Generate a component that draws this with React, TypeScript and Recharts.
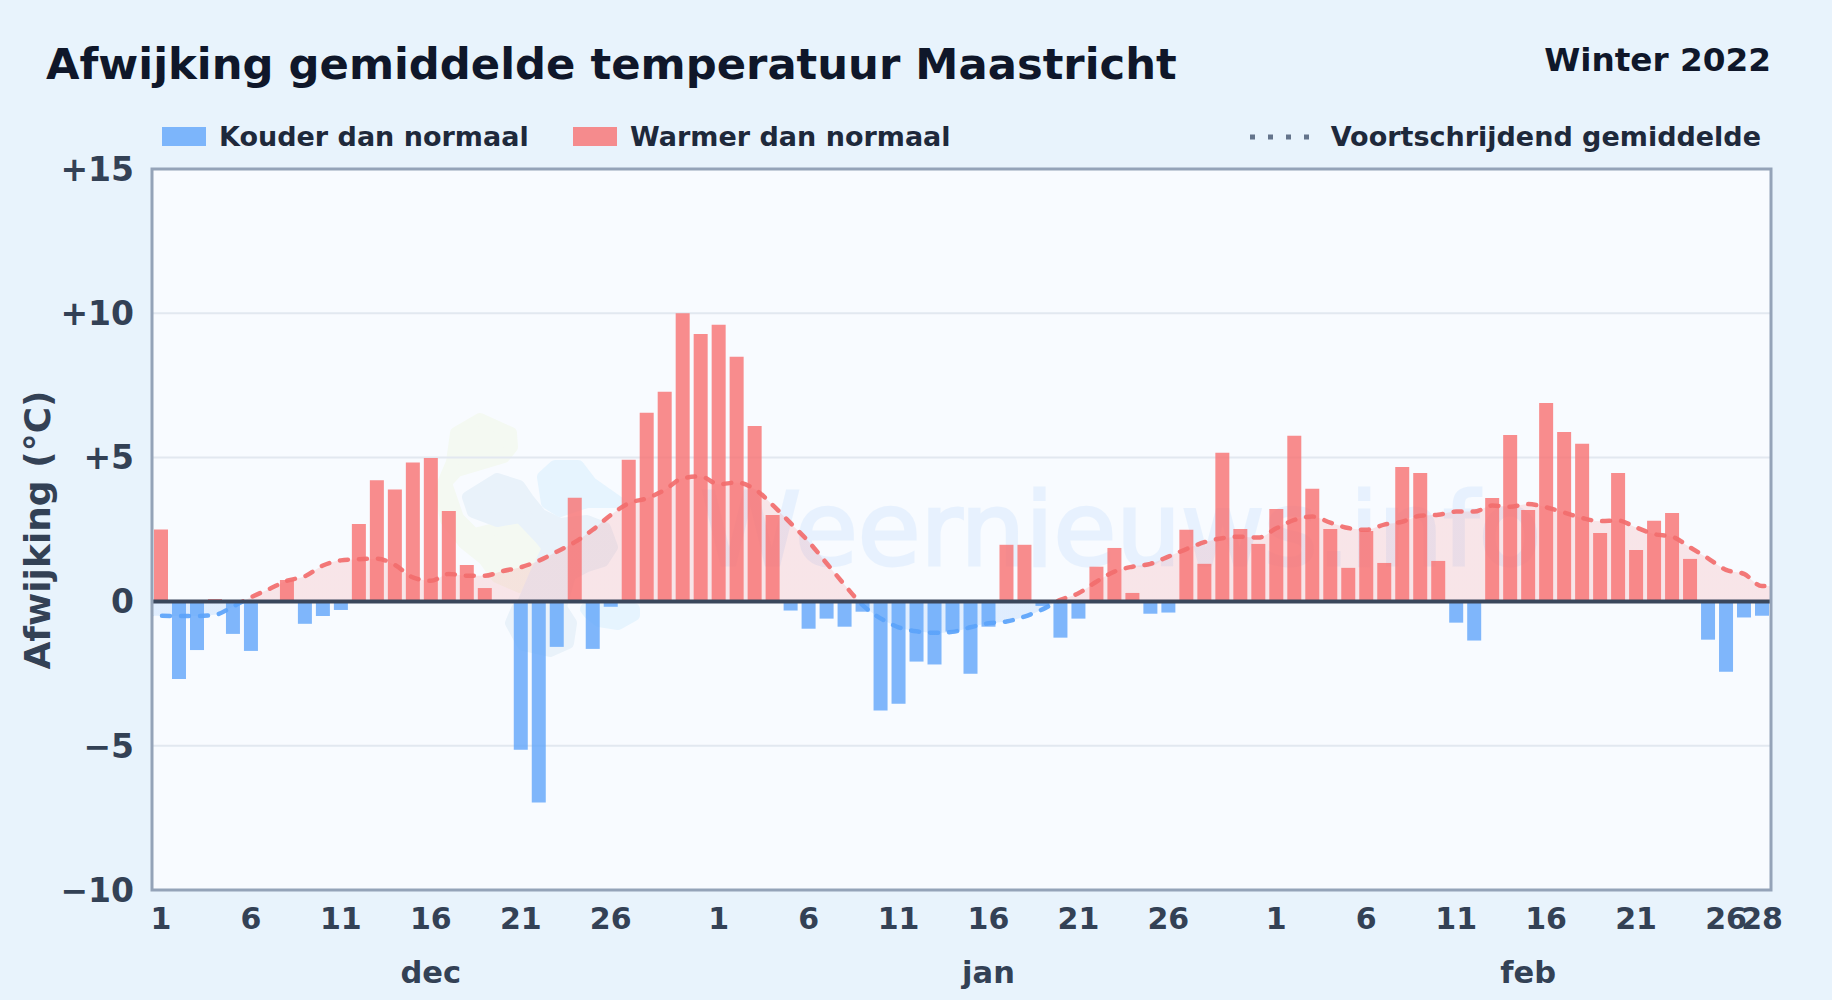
import {
  Area,
  Bar,
  CartesianGrid,
  ComposedChart,
  Line,
  ReferenceLine,
  XAxis,
  YAxis,
} from "recharts";

const monthLengths = [31, 31, 28];
const monthNames = ["dec", "jan", "feb"];

// afwijking per dag, 1 dec t/m 28 feb
const anomaly = [
  2.5, -2.68, -1.68, 0.09, -1.12, -1.71, 0, 0.75, -0.77, -0.5, -0.29, 2.69, 4.21, 3.89, 4.82, 4.98,
  3.14, 1.27, 0.47, 0, -5.14, -6.97, -1.57, 3.6, -1.64, -0.18, 4.92, 6.55, 7.28, 10.0, 9.28,
  9.6, 8.49, 6.09, 3.0, -0.31, -0.94, -0.59, -0.87, -0.35, -3.78, -3.54, -2.08, -2.18, -1.04, -2.5,
  -0.87, 1.97, 1.97, -0.15, -1.25, -0.59, 1.21, 1.86, 0.3, -0.42, -0.38, 2.49, 1.31, 5.16, 2.52, 2.0,
  3.21, 5.75, 3.91, 2.52, 1.17, 2.45, 1.34, 4.67, 4.46, 1.41, -0.73, -1.35, 3.59, 5.78, 3.18, 6.89,
  5.88, 5.47, 2.38, 4.46, 1.79, 2.8, 3.07, 1.48, -1.32, -2.43, -0.55, -0.49,
];

const movingAverage = [
  -0.49, -0.5, -0.5, -0.46, -0.17, 0.15, 0.43, 0.72, 0.88, 1.25, 1.43, 1.47, 1.49, 1.27, 0.84, 0.72,
  0.96, 0.9, 0.9, 1.06, 1.19, 1.42, 1.73, 2.06, 2.49, 3.0, 3.41, 3.58, 3.87, 4.28, 4.34,
  4.07, 4.13, 3.9, 3.35, 2.72, 2.08, 1.33, 0.58, -0.12, -0.58, -0.89, -1.03, -1.08, -1.05, -0.89,
  -0.75, -0.69, -0.52, -0.27, 0.06, 0.29, 0.69, 1.04, 1.21, 1.31, 1.56, 1.82, 2.06, 2.2, 2.25, 2.22,
  2.54, 2.83, 2.95, 2.74, 2.55, 2.49, 2.67, 2.77, 2.98, 3.01, 3.12, 3.12, 3.33, 3.29, 3.38, 3.27,
  3.09, 2.9, 2.79, 2.81, 2.57, 2.34, 2.25, 1.88, 1.5, 1.1, 0.96, 0.54,
];
// de lijn loopt door tot aan de rand van het vlak, buiten de as wordt hij afgeknipt
const averageBeforeStart = -0.49;
const averageAfterEnd = 0.54;

const yTicks = [-10, -5, 0, 5, 10, 15];
const gridValues = [-5, 5, 10];
const dayTicks = [
  [1, 6, 11, 16, 21, 26],
  [1, 6, 11, 16, 21, 26],
  [1, 6, 11, 16, 21, 26, 28],
];
// positie van de maandnaam onder de as
const monthLabelDays = [16, 16, 15];

const dayNumbers: number[] = [];
const dayRows = anomaly.map((value, i) => {
  let rest = i;
  let m = 0;
  while (rest >= monthLengths[m]) {
    rest -= monthLengths[m];
    m += 1;
  }
  dayNumbers.push(rest + 1);
  return {
    key: i,
    cold: value < 0 ? value : null,
    warm: value >= 0 ? value : null,
    avg: movingAverage[i],
  };
});
const rows = [
  { key: -1, cold: null, warm: null, avg: averageBeforeStart },
  ...dayRows,
  { key: anomaly.length, cold: null, warm: null, avg: averageAfterEnd },
];

const monthStart = (m: number) => monthLengths.slice(0, m).reduce((a, b) => a + b, 0);
const xTicks = dayTicks.flatMap((days, m) => days.map((d) => monthStart(m) + d - 1));
const monthTicks = monthLabelDays.map((d, m) => monthStart(m) + d - 1);

const W = 1832;
const H = 1000;
const PLOT = { left: 152, right: 1771, top: 169, bottom: 890 };
const FONT = "'DejaVu Sans', sans-serif";
const ZERO_AT = 15 / 25; // nul op de schaal -10..15

const formatY = (v: number) => (v > 0 ? `+${v}` : v < 0 ? `\u2212${-v}` : "0");

const logoBlobs = [
  { fill: "#f4f9f2", points: "456,433 480,419 511,433 512,447 504,457 457,471 446,483 458,518 474,534 503,527 537,531 558,552 557,570 548,581 520,587 497,577 484,559 464,543 446,520 440,490 452,462" },
  { fill: "#e9f2fa", points: "468,497 497,479 519,486 528,499 541,515 560,524 587,521 605,528 612,547 603,561 587,566 570,575 560,610 520,610 535,575 548,548 540,538 520,517 497,521 473,512" },
  { fill: "#e6f4fe", points: "543,477 555,466 578,466 591,483 618,502 587,502 560,511 547,503" },
  { fill: "#e9f2fa", points: "511,623 517,609 562,609 571,623 568,643 550,651 523,645" },
  { fill: "#e6f4fe", points: "586,609 634,609 634,615 618,624 599,621 589,613" },
];

function Backdrop() {
  return (
    <svg width={W} height={H} style={{ position: "absolute", left: 0, top: 0 }}>
      <rect
        x={PLOT.left}
        y={PLOT.top}
        width={PLOT.right - PLOT.left}
        height={PLOT.bottom - PLOT.top}
        fill="#f8fbff"
      />
      {logoBlobs.map((b) => (
        <polygon key={b.points} points={b.points} fill={b.fill} stroke={b.fill} strokeWidth={12} strokeLinejoin="round" />
      ))}
      <text
        x={700}
        y={565}
        fontFamily={FONT}
        fontSize={102}
        fill="#60a5fa"
        stroke="#60a5fa"
        strokeWidth={3}
        opacity={0.1}
      >
        Weernieuws.info
      </text>
    </svg>
  );
}

function PlotBorder() {
  return (
    <svg width={W} height={H} style={{ position: "absolute", left: 0, top: 0, pointerEvents: "none" }}>
      <rect
        x={PLOT.left}
        y={PLOT.top}
        width={PLOT.right - PLOT.left}
        height={PLOT.bottom - PLOT.top}
        fill="none"
        stroke="#94a3b8"
        strokeWidth={3}
      />
    </svg>
  );
}

function LegendRow() {
  const label = { position: "absolute", top: 119, fontSize: 27, fontWeight: 700, color: "#1e293b", lineHeight: "36px" } as const;
  return (
    <>
      <div style={{ position: "absolute", left: 162, top: 127, width: 44, height: 19, background: "rgba(96,165,250,0.8)" }} />
      <div style={{ ...label, left: 219 }}>Kouder dan normaal</div>
      <div style={{ position: "absolute", left: 573, top: 127, width: 44, height: 19, background: "rgba(248,113,113,0.8)" }} />
      <div style={{ ...label, left: 630 }}>Warmer dan normaal</div>
      <svg width={60} height={10} style={{ position: "absolute", left: 1250, top: 132 }}>
        <line x1={0} x2={60} y1={5} y2={5} stroke="#64748b" strokeWidth={5} strokeDasharray="5 13" />
      </svg>
      <div style={{ ...label, right: W - 1761 }}>Voortschrijdend gemiddelde</div>
    </>
  );
}

export default function App() {
  return (
    <div
      style={{
        position: "absolute",
        left: 0,
        top: 0,
        width: W,
        height: H,
        overflow: "hidden",
        background: "#e8f3fc",
        fontFamily: FONT,
      }}
    >
      <Backdrop />
      <div style={{ position: "absolute", left: 46, top: 36, fontSize: 43.3, fontWeight: 700, color: "#0f172a", lineHeight: "56px" }}>
        Afwijking gemiddelde temperatuur Maastricht
      </div>
      <div style={{ position: "absolute", right: W - 1771, top: 40, fontSize: 32.7, fontWeight: 700, color: "#0f172a", lineHeight: "40px" }}>
        Winter 2022
      </div>
      <LegendRow />
      <div style={{ position: "absolute", left: 0, top: 0 }}>
        <ComposedChart
          width={W}
          height={H}
          data={rows}
          stackOffset="sign"
          margin={{ top: PLOT.top, right: W - PLOT.right, bottom: H - PLOT.bottom - 110, left: 0 }}
        >
          <defs>
            <linearGradient id="avgStroke" gradientUnits="userSpaceOnUse" x1={0} x2={0} y1={PLOT.top} y2={PLOT.bottom}>
              <stop offset={ZERO_AT} stopColor="#f26d6d" />
              <stop offset={ZERO_AT} stopColor="#5ba3fa" />
            </linearGradient>
            <linearGradient id="avgFill" gradientUnits="userSpaceOnUse" x1={0} x2={0} y1={PLOT.top} y2={PLOT.bottom}>
              <stop offset={ZERO_AT} stopColor="#f87171" stopOpacity={0.16} />
              <stop offset={ZERO_AT} stopColor="#60a5fa" stopOpacity={0.16} />
            </linearGradient>
          </defs>
          <CartesianGrid horizontal vertical={false} horizontalValues={gridValues} stroke="#e2e8f0" strokeWidth={2} />
          <XAxis
            dataKey="key"
            type="number"
            scale="linear"
            domain={[-0.5, anomaly.length - 0.5]}
            allowDataOverflow
            ticks={xTicks}
            interval={0}
            height={55}
            axisLine={false}
            tickLine={false}
            tickMargin={12}
            tickFormatter={(i: number) => String(dayNumbers[i])}
            tick={{ fontSize: 30, fontWeight: 700, fill: "#334155", fontFamily: FONT }}
          />
          <XAxis
            xAxisId="month"
            dataKey="key"
            type="number"
            scale="linear"
            domain={[-0.5, anomaly.length - 0.5]}
            allowDataOverflow
            ticks={monthTicks}
            interval={0}
            height={55}
            axisLine={false}
            tickLine={false}
            tickMargin={10}
            tickFormatter={(i: number) => monthNames[monthTicks.indexOf(i)]}
            tick={{ fontSize: 30.5, fontWeight: 700, fill: "#334155", fontFamily: FONT }}
          />
          <YAxis
            width={PLOT.left}
            domain={[-10, 15]}
            ticks={yTicks}
            interval={0}
            axisLine={false}
            tickLine={false}
            tickMargin={12}
            tickFormatter={formatY}
            tick={{ fontSize: 33, fontWeight: 700, fill: "#334155", fontFamily: FONT }}
            label={{
              value: "Afwijking (\u00b0C)",
              angle: -90,
              position: "insideLeft",
              dx: 32,
              dy: 140,
              style: { fontSize: 36, fontWeight: 700, fill: "#334155", fontFamily: FONT },
            }}
          />
          <Area
            dataKey="avg"
            type="monotone"
            stroke="none"
            fill="url(#avgFill)"
            fillOpacity={1}
            dot={false}
            activeDot={false}
            isAnimationActive={false}
          />
          <Bar dataKey="cold" stackId="day" barSize={14} fill="#60a5fa" fillOpacity={0.8} isAnimationActive={false} />
          <Bar dataKey="warm" stackId="day" barSize={14} fill="#f87171" fillOpacity={0.8} isAnimationActive={false} />
          <Line
            dataKey="avg"
            type="monotone"
            stroke="url(#avgStroke)"
            strokeWidth={4.5}
            strokeDasharray="8 11"
            strokeLinecap="round"
            strokeOpacity={0.92}
            dot={false}
            activeDot={false}
            isAnimationActive={false}
          />
          <ReferenceLine y={0} stroke="#3a475c" strokeWidth={4} />
        </ComposedChart>
      </div>
      <PlotBorder />
    </div>
  );
}
